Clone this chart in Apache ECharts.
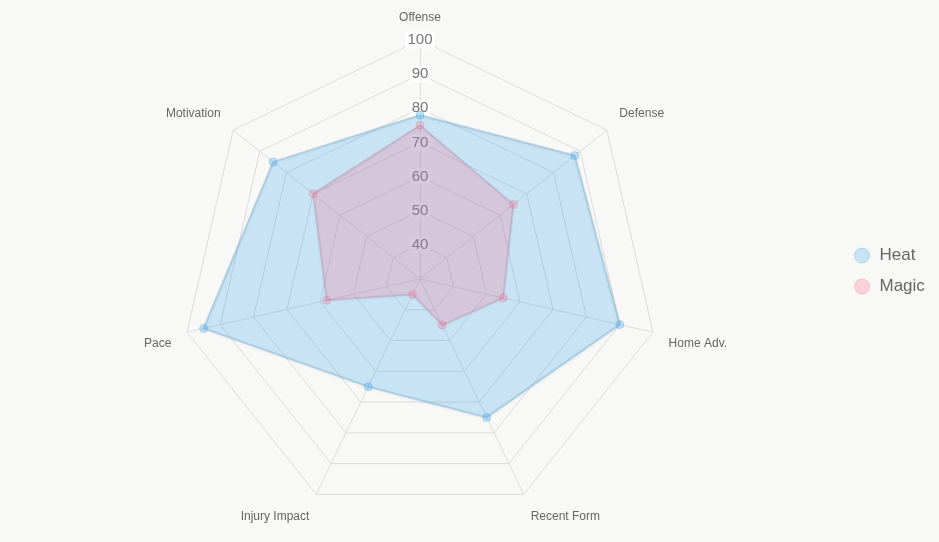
<!DOCTYPE html>
<html>
<head>
<meta charset="utf-8">
<script src="https://cdn.jsdelivr.net/npm/echarts@6/dist/echarts.min.js"></script>
<style>
  html, body { margin: 0; padding: 0; background: #f8f8f6; }
  #container { width: 939px; height: 542px; }
</style>
</head>
<body>
<div id="container"></div>
<script>
var indicators = ['Offense', 'Defense', 'Home Adv.', 'Recent Form', 'Injury Impact', 'Pace', 'Motivation']
var heat = [78, 88, 90, 75, 65, 95, 85]
var magic = [75, 65, 55, 45, 35, 58, 70]
var scaleMin = 30
var scaleMax = 100
var tickStep = 10

var center = [420, 279]
var radius = 239
var font = 'Liberation Sans, Arial, sans-serif'

// echarts radar runs counter-clockwise, the reference goes clockwise
function clockwise(arr) {
    return [arr[0]].concat(arr.slice(1).reverse())
}

// nudge the point labels a bit (top ones up, lower ones down)
var namePad = {
    'Offense': [0, 0, 0, 0],
    'Defense': [0, 0, 12, 0],
    'Motivation': [0, 0, 12, 0],
    'Home Adv.': [16, 0, 0, 0],
    'Pace': [16, 0, 0, 0],
    'Recent Form': [16, 0, 0, 0],
    'Injury Impact': [16, 0, 0, 0]
}
var rich = {}
indicators.forEach(function (n, i) {
    rich['n' + i] = { color: '#666', fontSize: 12, fontFamily: font, padding: namePad[n] }
})

var myChart = echarts.init(document.getElementById('container'));

myChart.setOption({
    backgroundColor: '#f8f8f6',
    animation: false,
    legend: {
        orient: 'vertical',
        left: 849,
        top: 'middle',
        itemWidth: 15,
        itemHeight: 15,
        itemGap: 14,
        icon: 'circle',
        textStyle: {
            fontSize: 17,
            color: '#666',
            fontFamily: font,
            padding: [0, 0, 0, 5]
        },
        data: [
            { name: 'Heat', itemStyle: { color: 'rgba(54,162,235,0.25)', borderColor: 'rgba(54,162,235,0.3)', borderWidth: 1 } },
            { name: 'Magic', itemStyle: { color: 'rgba(255,99,132,0.25)', borderColor: 'rgba(255,99,132,0.3)', borderWidth: 1 } }
        ]
    },
    // polar only used to put the scale labels up the first spoke
    polar: {
        center: center,
        radius: radius
    },
    angleAxis: {
        type: 'value',
        startAngle: 90,
        show: false
    },
    radiusAxis: {
        type: 'value',
        min: scaleMin,
        max: scaleMax,
        interval: tickStep,
        z: 1,
        axisLine: { show: false },
        axisTick: { show: false },
        splitLine: { show: false },
        axisLabel: {
            showMinLabel: false,
            margin: 0,
            align: 'center',
            verticalAlign: 'middle',
            fontSize: 15,
            color: '#777',
            fontFamily: font,
            backgroundColor: 'rgba(255,255,255,0.75)',
            padding: [1, 2]
        }
    },
    radar: {
        center: center,
        radius: radius,
        startAngle: 90,
        shape: 'polygon',
        splitNumber: (scaleMax - scaleMin) / tickStep,
        z: 0,
        axisName: {
            color: '#666',
            fontSize: 12,
            fontFamily: font,
            formatter: function (name) {
                return '{n' + indicators.indexOf(name) + '|' + name + '}'
            },
            rich: rich
        },
        nameGap: 16,
        splitArea: { show: false },
        splitLine: { lineStyle: { color: '#dcdcdc', width: 1 } },
        axisLine: { lineStyle: { color: '#dcdcdc', width: 1 } },
        indicator: clockwise(indicators).map(function (n) {
            return { name: n, min: scaleMin, max: scaleMax }
        })
    },
    series: [
        {
            type: 'radar',
            z: 3,
            symbol: 'circle',
            symbolSize: 8,
            data: [
                {
                    name: 'Heat',
                    value: clockwise(heat),
                    itemStyle: { color: 'rgba(54,162,235,0.28)', borderColor: 'rgba(54,162,235,0.35)', borderWidth: 1 },
                    lineStyle: {
                        color: 'rgba(120,170,200,0.4)', width: 2,
                        shadowColor: 'rgba(0,0,0,0.15)', shadowBlur: 3, shadowOffsetY: 1
                    },
                    areaStyle: { color: 'rgba(54,162,235,0.25)', opacity: 1 }
                },
                {
                    name: 'Magic',
                    value: clockwise(magic),
                    itemStyle: { color: 'rgba(255,99,132,0.25)', borderColor: 'rgba(220,110,150,0.3)', borderWidth: 1 },
                    lineStyle: {
                        color: 'rgba(170,140,170,0.35)', width: 2,
                        shadowColor: 'rgba(0,0,0,0.1)', shadowBlur: 3, shadowOffsetY: 1
                    },
                    areaStyle: { color: 'rgba(255,99,132,0.22)', opacity: 1 }
                }
            ]
        }
    ]
});
</script>
</body>
</html>
